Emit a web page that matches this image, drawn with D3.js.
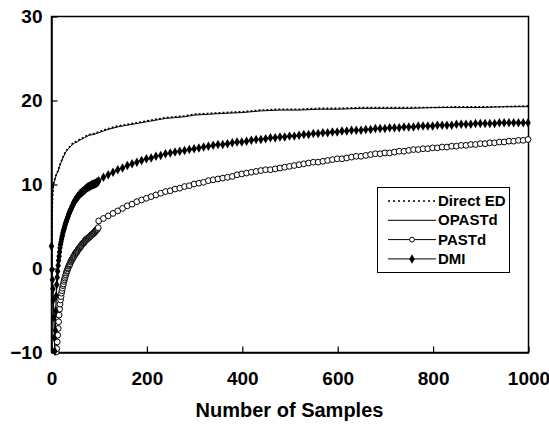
<!DOCTYPE html>
<html>
<head>
<meta charset="utf-8">
<script src="https://cdn.jsdelivr.net/npm/d3@7"></script>
<style>
  body { margin: 0; background: #fff; }
  svg { display: block; }
  text { font-family: "Liberation Sans", Arial, sans-serif; font-weight: bold; fill: #000; }
</style>
</head>
<body>
<div id="chart"></div>
<script>
// -----------------------
// data
// -----------------------
const xTicks = [0, 200, 400, 600, 800, 1000];
const yTicks = [-10, 0, 10, 20, 30];
const seriesNames = ["Direct ED", "OPASTd", "PASTd", "DMI"];

// every sample up to 99 (dense markers), then every 10th sample
const denseN = [1, 2, 3, 4, 5, 6, 7, 8, 9, 10, 11, 12, 13, 14, 15, 16, 17, 18, 19, 20,
  21, 22, 23, 24, 25, 26, 27, 28, 29, 30, 31, 32, 33, 34, 35, 36, 37, 38, 39, 40,
  41, 42, 43, 44, 45, 46, 47, 48, 49, 50, 51, 52, 53, 54, 55, 56, 57, 58, 59, 60,
  61, 62, 63, 64, 65, 66, 67, 68, 69, 70, 71, 72, 73, 74, 75, 76, 77, 78, 79, 80,
  81, 82, 83, 84, 85, 86, 87, 88, 89, 90, 91, 92, 93, 94, 95, 96, 97, 98, 99];
const sparseN = [100, 110, 120, 130, 140, 150, 160, 170, 180, 190, 200, 210, 220, 230, 240,
  250, 260, 270, 280, 290, 300, 310, 320, 330, 340, 350, 360, 370, 380, 390, 400, 410, 420,
  430, 440, 450, 460, 470, 480, 490, 500, 510, 520, 530, 540, 550, 560, 570, 580, 590, 600,
  610, 620, 630, 640, 650, 660, 670, 680, 690, 700, 710, 720, 730, 740, 750, 760, 770, 780,
  790, 800, 810, 820, 830, 840, 850, 860, 870, 880, 890, 900, 910, 920, 930, 940, 950, 960,
  970, 980, 990, 1000];

const dmiDense = [2.6, -0.2, -1.4, -2.5, -3.8, -5.9, -8.3, -9.9, -7.4, -5.1, -3.3, -2.0, -1.1, -0.4, 0.3, 0.9, 1.4, 1.9, 2.4, 2.8,
  3.1, 3.4, 3.7, 3.9, 4.2, 4.4, 4.6, 4.8, 5.0, 5.2, 5.4, 5.5, 5.7, 5.9, 6.0, 6.2, 6.4, 6.5, 6.7, 6.8,
  6.9, 7.0, 7.2, 7.3, 7.4, 7.5, 7.7, 7.8, 7.9, 8.0, 8.1, 8.2, 8.2, 8.3, 8.4, 8.5, 8.5, 8.6, 8.7, 8.8,
  8.8, 8.9, 8.9, 9.0, 9.0, 9.1, 9.1, 9.2, 9.2, 9.3, 9.3, 9.4, 9.4, 9.5, 9.5, 9.6, 9.6, 9.6, 9.7, 9.7,
  9.7, 9.8, 9.8, 9.8, 9.9, 9.9, 9.9, 9.9, 10.0, 10.0, 10.0, 10.0, 10.1, 10.1, 10.1, 10.2, 10.2, 10.2, 10.3];
const dmiSparse = [10.4, 10.8, 11.1, 11.4, 11.7, 11.9, 12.2, 12.4, 12.6, 12.8, 13.0, 13.1, 13.3, 13.4, 13.6,
  13.7, 13.8, 13.9, 14.0, 14.1, 14.2, 14.3, 14.4, 14.5, 14.6, 14.7, 14.7, 14.8, 14.9, 15.0, 15.0, 15.1, 15.2,
  15.3, 15.3, 15.4, 15.5, 15.5, 15.6, 15.6, 15.7, 15.7, 15.8, 15.9, 15.9, 16.0, 16.0, 16.1, 16.1, 16.2, 16.2,
  16.3, 16.3, 16.4, 16.4, 16.4, 16.5, 16.5, 16.6, 16.6, 16.6, 16.7, 16.7, 16.7, 16.8, 16.8, 16.8, 16.9, 16.9,
  16.9, 16.9, 17.0, 17.0, 17.0, 17.0, 17.1, 17.1, 17.1, 17.1, 17.2, 17.2, 17.2, 17.2, 17.2, 17.3, 17.3, 17.3,
  17.3, 17.3, 17.3, 17.3];

// PASTd sits below the axis for the first samples
const pastdDense = [null, null, null, null, null, null, null, null, null, null, -10.0, -9.6, -8.8, -8.0, -7.2, -6.4, -5.6, -4.9, -4.3, -3.8,
  -3.4, -3.0, -2.7, -2.4, -2.1, -1.9, -1.6, -1.4, -1.2, -1.0, -0.8, -0.6, -0.4, -0.3, -0.1, 0.0, 0.2, 0.3, 0.4, 0.5,
  0.7, 0.8, 0.9, 1.0, 1.1, 1.2, 1.3, 1.4, 1.5, 1.6, 1.7, 1.8, 1.8, 1.9, 2.0, 2.1, 2.2, 2.3, 2.3, 2.4,
  2.5, 2.6, 2.6, 2.7, 2.8, 2.9, 2.9, 3.0, 3.0, 3.1, 3.2, 3.3, 3.3, 3.4, 3.4, 3.5, 3.5, 3.6, 3.6, 3.7,
  3.7, 3.8, 3.8, 3.9, 3.9, 4.0, 4.0, 4.1, 4.1, 4.2, 4.2, 4.3, 4.4, 4.5, 4.5, 4.6, 4.6, 4.7, 4.8];
const pastdSparse = [5.6, 5.9, 6.2, 6.5, 6.8, 7.1, 7.4, 7.6, 7.9, 8.1, 8.3, 8.5, 8.7, 8.9, 9.1,
  9.2, 9.4, 9.5, 9.7, 9.8, 10.0, 10.1, 10.2, 10.4, 10.5, 10.6, 10.7, 10.8, 10.9, 11.1, 11.2, 11.3, 11.4,
  11.5, 11.6, 11.7, 11.7, 11.8, 11.9, 12.0, 12.1, 12.2, 12.3, 12.4, 12.5, 12.6, 12.6, 12.7, 12.8, 12.9, 13.0,
  13.0, 13.1, 13.2, 13.3, 13.3, 13.4, 13.5, 13.6, 13.6, 13.7, 13.7, 13.8, 13.9, 13.9, 14.0, 14.1, 14.1, 14.2,
  14.2, 14.3, 14.3, 14.4, 14.4, 14.5, 14.5, 14.6, 14.6, 14.7, 14.7, 14.8, 14.8, 14.9, 14.9, 15.0, 15.0, 15.1,
  15.1, 15.2, 15.2, 15.3];

// line-only series
const lineN = [1, 2, 3, 4, 5, 6, 8, 10, 12, 15, 18, 20, 25, 30, 35, 40, 45, 50, 55, 60, 70, 80, 90, 100,
  110, 120, 140, 160, 180, 200, 220, 240, 260, 280, 300, 330, 360, 400, 440, 480, 520, 560, 600,
  650, 700, 750, 800, 850, 900, 950, 1000];
const opastd = [2.0, 6.5, 8.5, 9.3, 9.8, 10.1, 10.5, 10.9, 11.2, 11.5, 12.1, 12.4, 13.1, 13.7, 14.1, 14.4, 14.7, 14.9, 15.0, 15.2,
  15.5, 15.8, 15.9, 16.1, 16.3, 16.5, 16.8, 17.0, 17.2, 17.4, 17.6, 17.8, 17.9, 18.0, 18.2, 18.3, 18.4, 18.5,
  18.7, 18.8, 18.8, 18.9, 18.9, 19.0, 19.0, 19.0, 19.1, 19.1, 19.1, 19.2, 19.2];
const directEd = [0.0, 4.5, 8.0, 9.2, 9.9, 10.2, 10.6, 11.0, 11.3, 11.6, 12.2, 12.5, 13.2, 13.8, 14.2, 14.5, 14.8, 15.0, 15.1, 15.3,
  15.6, 15.9, 16.0, 16.2, 16.4, 16.6, 16.9, 17.1, 17.3, 17.5, 17.7, 17.9, 18.0, 18.1, 18.3, 18.4, 18.5, 18.6,
  18.8, 18.9, 18.9, 19.0, 19.0, 19.1, 19.1, 19.1, 19.1, 19.2, 19.2, 19.2, 19.3];

// -----------------------
// chart
// -----------------------
const width = 549, height = 433;
const margin = { top: 16, right: 21, bottom: 81, left: 51 };
const plotW = width - margin.left - margin.right;
const plotH = height - margin.top - margin.bottom;

const svg = d3.select("#chart").append("svg")
  .attr("width", width)
  .attr("height", height);

const x = d3.scaleLinear().domain([0, 1000]).range([margin.left, margin.left + plotW]);
const y = d3.scaleLinear().domain([-10, 30]).range([margin.top + plotH, margin.top]);

svg.append("clipPath").attr("id", "plot-clip")
  .append("rect")
  .attr("x", margin.left).attr("y", margin.top)
  .attr("width", plotW).attr("height", plotH);

// plot frame
svg.append("rect")
  .attr("x", margin.left + 0.5).attr("y", margin.top + 0.5)
  .attr("width", plotW).attr("height", plotH)
  .attr("fill", "none")
  .attr("stroke", "#000")
  .attr("stroke-width", 1.5);

// axes with inward ticks
const xAxis = svg.append("g")
  .attr("transform", `translate(0.5,${margin.top + plotH + 0.5})`)
  .call(d3.axisBottom(x).tickValues(xTicks).tickFormat(d3.format("d"))
    .tickSizeInner(-6).tickSizeOuter(0).tickPadding(19));
const yAxis = svg.append("g")
  .attr("transform", `translate(${margin.left + 0.5},0.5)`)
  .call(d3.axisLeft(y).tickValues(yTicks).tickFormat(d3.format("d"))
    .tickSizeInner(-6).tickSizeOuter(0).tickPadding(9));

[xAxis, yAxis].forEach(g => {
  g.select(".domain").attr("stroke", "#000").attr("stroke-width", 1.5);
  g.selectAll(".tick line").attr("stroke", "#000").attr("stroke-width", 1.2);
  g.selectAll(".tick text")
    .attr("font-family", "Liberation Sans, Arial, sans-serif")
    .attr("font-weight", "bold")
    .attr("font-size", 19)
    .attr("fill", "#000");
});

svg.append("text")
  .attr("x", margin.left + plotW / 2)
  .attr("y", 417)
  .attr("text-anchor", "middle")
  .attr("font-size", 20)
  .text("Number of Samples");

// series data
const toPts = (ns, vs) => ns.map((n, i) => ({ n, v: vs[i] })).filter(d => d.v != null);
const dmiPts = toPts(denseN, dmiDense).concat(toPts(sparseN, dmiSparse));
const pastdPts = toPts(denseN, pastdDense).concat(toPts(sparseN, pastdSparse));
const opastdPts = toPts(lineN, opastd);
const directPts = toPts(lineN, directEd);

const line = d3.line().x(d => x(d.n)).y(d => y(d.v));
const plot = svg.append("g").attr("clip-path", "url(#plot-clip)");

plot.append("path").datum(directPts)
  .attr("d", line).attr("fill", "none")
  .attr("stroke", "#000").attr("stroke-width", 1.6)
  .attr("stroke-dasharray", "2,2");
plot.append("path").datum(opastdPts)
  .attr("d", line).attr("fill", "none")
  .attr("stroke", "#000").attr("stroke-width", 1);

plot.append("path").datum(pastdPts)
  .attr("d", line).attr("fill", "none")
  .attr("stroke", "#000").attr("stroke-width", 1);
svg.append("g").selectAll("circle")
  .data(pastdPts)
  .join("circle")
  .attr("cx", d => x(d.n))
  .attr("cy", d => y(d.v))
  .attr("r", 2.9)
  .attr("fill", "#fff")
  .attr("stroke", "#000")
  .attr("stroke-width", 1);

plot.append("path").datum(dmiPts)
  .attr("d", line).attr("fill", "none")
  .attr("stroke", "#000").attr("stroke-width", 1.2);
const diamond = d3.symbol().type(d3.symbolDiamond).size(26);
svg.append("g").selectAll("path")
  .data(dmiPts)
  .join("path")
  .attr("transform", d => `translate(${x(d.n)},${y(d.v)})`)
  .attr("d", diamond)
  .attr("fill", "#000");

// legend
const legend = svg.append("g").attr("transform", "translate(377,187)");
legend.append("rect")
  .attr("x", 0.5).attr("y", 0.5)
  .attr("width", 132).attr("height", 85)
  .attr("fill", "#fff")
  .attr("stroke", "#000")
  .attr("stroke-width", 1);

seriesNames.forEach((name, i) => {
  const cy = 14 + i * 19.3;
  const row = legend.append("g").attr("transform", `translate(0,${cy})`);
  const l = row.append("line")
    .attr("x1", 11).attr("x2", 59)
    .attr("y1", 0).attr("y2", 0)
    .attr("stroke", "#000");
  if (i === 0) l.attr("stroke-width", 1.6).attr("stroke-dasharray", "2,3");
  if (i === 2) {
    row.append("circle").attr("cx", 35).attr("cy", 0).attr("r", 2.4)
      .attr("fill", "#fff").attr("stroke", "#000");
  }
  if (i === 3) {
    row.append("path").attr("transform", "translate(35,0)")
      .attr("d", diamond).attr("fill", "#000");
  }
  row.append("text")
    .attr("x", 61).attr("y", 5)
    .attr("font-size", 15)
    .text(name);
});
</script>
</body>
</html>
